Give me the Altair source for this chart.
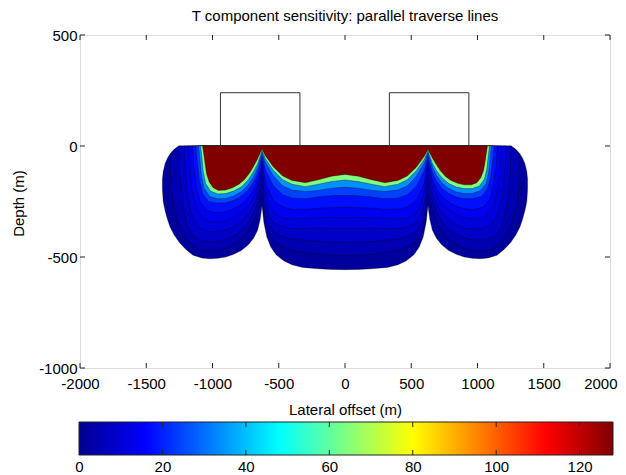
import altair as alt
import pandas as pd

FONT = "Liberation Sans"

TITLE = "T component sensitivity: parallel traverse lines"
X_TITLE = "Lateral offset (m)"
Y_TITLE = "Depth (m)"
X_TICKS = [-2000, -1500, -1000, -500, 0, 500, 1000, 1500, 2000]
Y_TICKS = [-1000, -500, 0, 500]
CBAR_TICKS = [0, 20, 40, 60, 80, 100, 120]
CBAR_RANGE = [0, 128]

# jet colour map anchors (value -> colour)
JET_STOPS = [0, 16, 48, 80, 112, 128]
JET_COLORS = ["#00008F", "#0000FF", "#00FFFF", "#FFFF00", "#FF0000", "#800000"]

# value of each filled contour band (outermost first)
LEVEL_VALUES = [2, 5, 8, 11, 14, 18, 24, 34, 64, 128]

# ---- contour band outlines: lateral offset (m), bottom depth (m), top depth (m) ----
L0_X = [-1378, -1372, -1358, -1340, -1320, -1290, -1250, -1200, -1147, -1080, -1020, -960, -900, -840, -780, -730, -690, -660, -640,
        -626,
        -612, -590, -560, -520, -460, -400, -320, -200, -100, 0, 100, 200, 320, 400, 460, 520, 560, 590, 612,
        626,
        640, 660, 690, 730, 780, 840, 900, 960, 1020, 1080, 1147, 1200, 1250, 1290, 1320, 1340, 1358, 1372, 1378]
L0_D = [-195, -250, -290, -330, -365, -400, -435, -466, -492, -504, -508, -506, -500, -488, -470, -445, -415, -380, -330,
        -268,
        -345, -410, -455, -490, -518, -535, -547, -553, -556, -557, -556, -553, -547, -535, -518, -490, -455, -410, -345,
        -268,
        -330, -380, -415, -445, -470, -488, -500, -506, -508, -504, -492, -466, -435, -400, -365, -330, -290, -250, -195]
L0_TOP = [-150, -115, -80, -55, -35, -15, 0, 0, 0, 0, 0, 0, 0, 0, 0, 0, 0, 0, 0,
          0,
          0, 0, 0, 0, 0, 0, 0, 0, 0, 0, 0, 0, 0, 0, 0, 0, 0, 0, 0,
          0,
          0, 0, 0, 0, 0, 0, 0, 0, 0, 0, 0, 0, 0, -15, -35, -55, -80, -115, -150]

L1_X = [-1318, -1305, -1285, -1255, -1200, -1120, -1040, -960, -880, -810, -750, -700, -660,
        -626,
        -610, -580, -540, -470, -400, -300, -200, -100, 0, 100, 200, 300, 400, 470, 540, 580, 610,
        626,
        660, 700, 750, 810, 880, 960, 1040, 1120, 1200, 1255, 1285, 1305, 1318]
L1_D = [-120, -220, -290, -350, -420, -462, -474, -470, -457, -432, -398, -352, -295,
        -215,
        -330, -395, -430, -455, -470, -480, -488, -492, -493, -492, -488, -480, -470, -455, -430, -395, -330,
        -215,
        -295, -352, -398, -432, -457, -470, -474, -462, -420, -350, -290, -220, -120]
L1_TOP = [-75, -38, -16, 0, 0, 0, 0, 0, 0, 0, 0, 0, 0,
          0,
          0, 0, 0, 0, 0, 0, 0, 0, 0, 0, 0, 0, 0, 0, 0, 0, 0,
          0,
          0, 0, 0, 0, 0, 0, 0, 0, 0, 0, -16, -38, -75]

L2_X = [-1255, -1248, -1230, -1195, -1140, -1070, -1000, -930, -860, -800, -740, -695, -660,
        -626,
        -610, -580, -540, -470, -400, -300, -200, -100, 0, 100, 200, 300, 400, 470, 540, 580, 610,
        626,
        660, 695, 740, 800, 860, 930, 1000, 1070, 1140, 1195, 1230, 1248, 1255]
L2_D = [0, -115, -245, -350, -412, -430, -432, -428, -413, -392, -355, -310, -255,
        -170,
        -280, -350, -385, -408, -420, -425, -430, -433, -434, -433, -430, -425, -420, -408, -385, -350, -280,
        -170,
        -250, -305, -348, -385, -406, -420, -424, -422, -405, -345, -240, -112, 0]

L3_X = [-1215, -1207, -1190, -1155, -1100, -1030, -960, -900, -840, -780, -725, -680, -650,
        -626,
        -610, -580, -540, -470, -400, -300, -200, -100, 0, 100, 200, 300, 400, 470, 540, 580, 610,
        626,
        650, 680, 725, 780, 840, 900, 960, 1030, 1100, 1155, 1190, 1207, 1215]
L3_D = [0, -105, -220, -315, -370, -385, -386, -380, -365, -340, -302, -258, -205,
        -130,
        -220, -300, -345, -365, -372, -372, -370, -371, -371, -371, -370, -372, -372, -365, -345, -300, -220,
        -130,
        -200, -252, -295, -330, -355, -370, -375, -373, -358, -305, -212, -100, 0]

L4_X = [-1180, -1172, -1155, -1120, -1065, -1000, -940, -880, -820, -760, -710, -670, -645,
        -626,
        -610, -580, -540, -470, -400, -300, -200, -100, 0, 100, 200, 300, 400, 470, 540, 580, 610,
        626,
        645, 670, 710, 760, 820, 880, 940, 1000, 1065, 1120, 1155, 1172, 1180]
L4_D = [0, -95, -200, -285, -330, -342, -342, -333, -315, -288, -255, -210, -155,
        -95,
        -170, -250, -300, -325, -328, -325, -323, -322, -322, -322, -323, -325, -328, -325, -300, -250, -170,
        -95,
        -150, -203, -245, -276, -302, -320, -328, -328, -316, -272, -190, -90, 0]

L5_X = [-1150, -1142, -1125, -1095, -1045, -980, -920, -860, -800, -750, -700, -665, -640,
        -626,
        -600, -540, -470, -400, -300, -200, -100, 0, 100, 200, 300, 400, 470, 540, 600,
        626,
        640, 665, 700, 750, 800, 860, 920, 980, 1045, 1095, 1125, 1142, 1150]
L5_D = [0, -80, -175, -250, -290, -300, -298, -288, -270, -245, -210, -165, -110,
        -65,
        -165, -245, -275, -285, -285, -280, -278, -277, -278, -280, -285, -285, -275, -245, -165,
        -65,
        -110, -160, -203, -236, -260, -276, -284, -285, -275, -235, -165, -75, 0]

L6_X = [-1125, -1115, -1100, -1075, -1030, -960, -900, -840, -780, -730, -690, -660, -640,
        -626,
        -600, -540, -470, -400, -300, -200, -100, 0, 100, 200, 300, 400, 470, 540, 600,
        626,
        640, 660, 690, 730, 780, 840, 900, 960, 1030, 1075, 1100, 1115, 1125]
L6_D = [0, -70, -150, -215, -250, -258, -256, -245, -225, -198, -165, -125, -80,
        -45,
        -110, -180, -220, -235, -238, -230, -224, -222, -224, -230, -238, -235, -220, -180, -110,
        -45,
        -80, -120, -158, -190, -213, -230, -238, -238, -228, -195, -138, -65, 0]

L7_X = [-1105, -1095, -1085, -1065, -1020, -960, -900, -840, -780, -730, -690, -660, -640,
        -626,
        -600, -540, -470, -400, -300, -200, -100, 0, 100, 200, 300, 400, 470, 540, 600,
        626,
        640, 660, 690, 730, 780, 840, 900, 960, 1020, 1065, 1085, 1095, 1105]
L7_D = [0, -60, -130, -190, -228, -238, -236, -225, -205, -175, -140, -100, -60,
        -30,
        -75, -135, -180, -198, -205, -200, -190, -186, -190, -200, -205, -198, -180, -135, -75,
        -30,
        -60, -95, -132, -165, -190, -207, -214, -214, -202, -170, -118, -55, 0]

L8_X = [-1090, -1080, -1070, -1052, -1015, -960, -900, -840, -780, -730, -690, -660, -640,
        -626,
        -600, -540, -470, -400, -300, -200, -100, 0, 100, 200, 300, 400, 470, 540, 600,
        626,
        640, 660, 690, 730, 780, 840, 900, 960, 1015, 1052, 1070, 1080, 1090]
L8_D = [0, -50, -115, -168, -203, -216, -214, -203, -183, -152, -115, -80, -45,
        -20,
        -58, -110, -152, -172, -183, -172, -160, -153, -160, -172, -183, -172, -152, -110, -58,
        -20,
        -45, -78, -110, -142, -168, -185, -192, -192, -180, -150, -105, -50, 0]

L9_X = [-1075, -1065, -1055, -1045, -1025, -995, -955, -900, -850, -800, -760, -720, -690, -660, -640,
        -626,
        -600, -540, -470, -400, -300, -200, -100, 0, 100, 200, 300, 400, 470, 540, 600,
        626,
        640, 660, 690, 720, 760, 800, 850, 900, 955, 995, 1025, 1045, 1055, 1065, 1075]
L9_D = [0, -40, -85, -125, -162, -188, -200, -198, -188, -172, -152, -122, -92, -58, -32,
        -15,
        -45, -95, -135, -155, -165, -152, -136, -128, -136, -152, -165, -155, -135, -95, -45,
        -15,
        -32, -55, -85, -112, -138, -155, -168, -175, -175, -165, -143, -112, -80, -40, 0]

# transmitter loops (outline)
LOOP1_X = [-940, -940, -340, -340]
LOOP1_D = [0, 240, 240, 0]
LOOP2_X = [335, 335, 935, 935]
LOOP2_D = [0, 240, 240, 0]

LEVELS = [(L0_X, L0_D, L0_TOP), (L1_X, L1_D, L1_TOP), (L2_X, L2_D, None), (L3_X, L3_D, None),
          (L4_X, L4_D, None), (L5_X, L5_D, None), (L6_X, L6_D, None), (L7_X, L7_D, None),
          (L8_X, L8_D, None), (L9_X, L9_D, None)]

W, H = 530, 333
CB_TOP, CB_H = 387, 33

xscale = alt.Scale(domain=[-2000, 2000], nice=False, zero=False)
yscale = alt.Scale(domain=[-1000, 500], nice=False, zero=False)
cscale = alt.Scale(domain=JET_STOPS, range=JET_COLORS, interpolate="rgb")
cbscale = alt.Scale(domain=CBAR_RANGE, range=[-1, W + 3], nice=False, zero=False)

PLAIN = "'' + datum.value"
LAST_X = "datum.value == 2000"

xaxis = alt.Axis(values=X_TICKS, ticks=False, domain=False, grid=False, labelFontSize=15,
                 labelPadding=8, labelFlush=False, labelOverlap=False, labelColor="#000",
                 labelFont=FONT, labelExpr=PLAIN,
                 labelAlign={"condition": {"test": LAST_X, "value": "right"}, "value": "center"},
                 labelOffset={"condition": {"test": LAST_X, "value": 7}, "value": 0},
                 title=X_TITLE, titleFont=FONT, titleFontSize=15,
                 titleFontWeight="normal", titleColor="#000", titleY=46, titleBaseline="alphabetic")
yaxis = alt.Axis(values=Y_TICKS, ticks=False, domain=False, grid=False, labelFontSize=15,
                 labelPadding=3, labelFlush=False, labelOverlap=False, labelColor="#000",
                 labelFont=FONT, labelExpr=PLAIN, title=Y_TITLE, titleFont=FONT, titleFontSize=15,
                 titleFontWeight="normal", titleColor="#000", titleX=-57, titleY=168,
                 titleBaseline="alphabetic")
cbaxis = alt.Axis(orient="bottom", offset=CB_TOP + CB_H - H, values=CBAR_TICKS, ticks=False,
                  domain=False, grid=False, labelFontSize=15, labelPadding=4, labelFlush=False,
                  labelOverlap=False, labelColor="#000", labelFont=FONT, labelExpr=PLAIN, title=None)

layers = []
for i, (xs, ds, tops) in enumerate(LEVELS):
    df = pd.DataFrame({
        "x": xs,
        "depth": ds,
        "top": tops if tops is not None else [0] * len(xs),
        "v": [LEVEL_VALUES[i]] * len(xs),
    })
    layers.append(
        alt.Chart(df).mark_area(stroke="#000000", strokeWidth=0.6, strokeOpacity=0.55).encode(
            x=alt.X("x:Q", scale=xscale, axis=xaxis),
            y=alt.Y("depth:Q", scale=yscale, axis=yaxis, stack=None),
            y2="top:Q",
            color=alt.Color("v:Q", scale=cscale, legend=None),
        )
    )

loops = pd.DataFrame({
    "x": LOOP1_X + LOOP2_X,
    "depth": LOOP1_D + LOOP2_D,
    "loop": ["a"] * 4 + ["b"] * 4,
    "i": [0, 1, 2, 3] * 2,
})
layers.append(
    alt.Chart(loops).mark_line(color="#333333", strokeWidth=1).encode(
        x=alt.X("x:Q", scale=xscale, axis=xaxis),
        y=alt.Y("depth:Q", scale=yscale, axis=yaxis),
        detail="loop:N",
        order="i:Q",
    )
)

xt = pd.DataFrame({"t": X_TICKS})
yt = pd.DataFrame({"t": Y_TICKS})
tick_style = dict(color="#222222", strokeWidth=1)
layers.append(alt.Chart(xt).mark_rule(**tick_style).encode(
    x=alt.X("t:Q", scale=xscale, axis=xaxis), y=alt.value(H), y2=alt.value(H - 5)))
layers.append(alt.Chart(xt).mark_rule(**tick_style).encode(
    x=alt.X("t:Q", scale=xscale, axis=xaxis), y=alt.value(0), y2=alt.value(5)))
layers.append(alt.Chart(yt).mark_rule(**tick_style).encode(
    y=alt.Y("t:Q", scale=yscale, axis=yaxis), x=alt.value(0), x2=alt.value(5)))
layers.append(alt.Chart(yt).mark_rule(**tick_style).encode(
    y=alt.Y("t:Q", scale=yscale, axis=yaxis), x=alt.value(W), x2=alt.value(W - 5)))

main = alt.layer(*layers)

# colour bar: jet gradient bar, with inward ticks on top and bottom edges
jet_gradient = alt.Gradient(
    gradient="linear", x1=0, x2=1, y1=0, y2=0,
    stops=[alt.GradientStop(color=c, offset=s / CBAR_RANGE[1]) for s, c in zip(JET_STOPS, JET_COLORS)],
)
cbar_df = pd.DataFrame({"c0": [CBAR_RANGE[0]], "c1": [CBAR_RANGE[1]]})
cb_bar = alt.Chart(cbar_df).mark_rect(fill=jet_gradient, stroke="#222222", strokeWidth=1).encode(
    x=alt.X("c0:Q", scale=cbscale, axis=cbaxis), x2="c1:Q",
    y=alt.value(CB_TOP), y2=alt.value(CB_TOP + CB_H))
cbt = pd.DataFrame({"c": CBAR_TICKS[1:]})
cb_top_ticks = alt.Chart(cbt).mark_rule(**tick_style).encode(
    x=alt.X("c:Q", scale=cbscale, axis=cbaxis), y=alt.value(CB_TOP), y2=alt.value(CB_TOP + 5))
cb_bot_ticks = alt.Chart(cbt).mark_rule(**tick_style).encode(
    x=alt.X("c:Q", scale=cbscale, axis=cbaxis), y=alt.value(CB_TOP + CB_H), y2=alt.value(CB_TOP + CB_H - 5))
cb = alt.layer(cb_bar, cb_top_ticks, cb_bot_ticks)

chart = alt.layer(main, cb).resolve_scale(x="independent").resolve_axis(x="independent").properties(
    width=W,
    height=H,
    title=alt.TitleParams(text=TITLE, font=FONT, fontSize=15, fontWeight="normal", color="#000",
                          anchor="middle", frame="group", offset=-8, baseline="alphabetic"),
    autosize=alt.AutoSizeParams(type="none"),
    padding={"left": 72, "top": 27, "right": 8, "bottom": 112},
).configure_view(stroke="#222222", strokeWidth=1).configure(background="white")

chart.save("out.html", embed_options={"renderer": "svg", "actions": False})
